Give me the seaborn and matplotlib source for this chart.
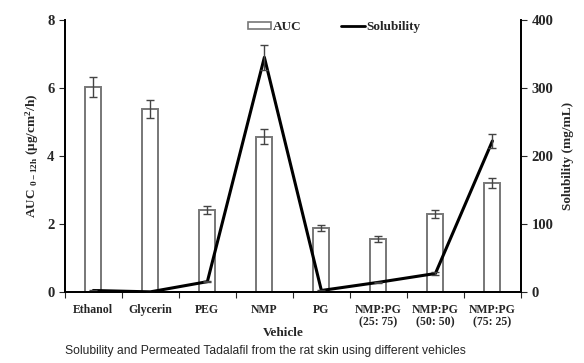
import matplotlib
matplotlib.use("agg")
import matplotlib.pyplot as plt
import numpy as np
import pandas as pd
import seaborn as sns
from matplotlib.patches import Patch
from matplotlib.lines import Line2D

vehicles = ["Ethanol", "Glycerin", "PEG", "NMP", "PG",
            "NMP:PG\n(25: 75)", "NMP:PG\n(50: 50)", "NMP:PG\n(75: 25)"]
auc = [6.02, 5.38, 2.41, 4.56, 1.87, 1.56, 2.29, 3.21]
auc_err = [0.30, 0.26, 0.12, 0.22, 0.09, 0.08, 0.11, 0.15]
solubility = [2, 0, 15, 345, 2, 14, 27, 222]
sol_err = [0.5, 0.2, 1.0, 18, 0.5, 1.0, 1.5, 10]

sns.set_style("white")
plt.rcParams["font.family"] = ["Liberation Serif", "DejaVu Serif"]
plt.rcParams["mathtext.fontset"] = "custom"
plt.rcParams["mathtext.rm"] = "Liberation Serif:bold"
plt.rcParams["mathtext.it"] = "Liberation Serif:bold"

df = pd.DataFrame({"Vehicle": vehicles, "AUC": auc})

fig = plt.figure(figsize=(5.84, 3.63), dpi=100)
ax = fig.add_axes([0.111, 0.196, 0.781, 0.749])
sns.barplot(data=df, x="Vehicle", y="AUC", ax=ax, width=0.28,
            color="white", edgecolor="#777777", linewidth=1.4)
x = np.arange(len(vehicles))
ax.errorbar(x, auc, yerr=auc_err, fmt="none", ecolor="#444444",
            elinewidth=1, capsize=3)

ax2 = ax.twinx()
sns.lineplot(x=x, y=solubility, ax=ax2, color="black", linewidth=2.2)
ax2.errorbar(x, solubility, yerr=sol_err, fmt="none", ecolor="#444444",
             elinewidth=1, capsize=3)

ax.set_xlim(-0.5, 7.5)
ax.set_ylim(0, 8)
ax2.set_ylim(0, 400)
ax.set_yticks([0, 2, 4, 6, 8])
ax2.set_yticks([0, 100, 200, 300, 400])
ax.set_xticks(np.arange(-0.5, 8, 1))
ax.set_xticklabels([])
ax.set_xticks(x, minor=True)
ax.set_xticklabels(vehicles, minor=True, fontweight="bold", fontsize=8.5,
                   linespacing=1.0)
ax.tick_params(axis="x", which="major", length=4, direction="out", bottom=True)
ax.tick_params(axis="x", which="minor", length=0, pad=9)
ax.tick_params(axis="y", length=4, direction="out", left=True, labelsize=10.5)
ax2.tick_params(axis="y", length=4, direction="out", right=True, labelsize=10.5)
for lab in ax.get_yticklabels() + ax2.get_yticklabels():
    lab.set_fontweight("bold")

for a in (ax, ax2):
    a.spines["top"].set_visible(False)
    for s in ("left", "right", "bottom"):
        a.spines[s].set_color("black")
        a.spines[s].set_linewidth(1.3)

ax.set_xlabel("Vehicle", fontweight="bold", fontsize=9.5)
ax.xaxis.set_label_coords(0.478, -0.151)
ax.xaxis.label.set_va("center")
ax.set_ylabel(r"AUC $_{0-12h}$ (μg/cm$^{2}$/h)", fontweight="bold", fontsize=9.5)
ax2.set_ylabel("Solubility (mg/mL)", fontweight="bold", fontsize=9.5, labelpad=6)

handles = [Patch(facecolor="white", edgecolor="#777777", linewidth=1.2),
           Line2D([0], [0], color="black", linewidth=2)]
ax.legend(handles, ["AUC", "Solubility"], ncol=2, frameon=False,
          loc="upper center", bbox_to_anchor=(0.59, 1.04),
          prop={"weight": "bold", "size": 9.5}, columnspacing=3,
          handlelength=1.8, handleheight=0.5, handletextpad=0.1)

fig.text(0.111, 0.025, "Solubility and Permeated Tadalafil from the rat skin using different vehicles",
         fontsize=8.7, family="Liberation Sans")

fig.savefig("out.png", dpi=100)
